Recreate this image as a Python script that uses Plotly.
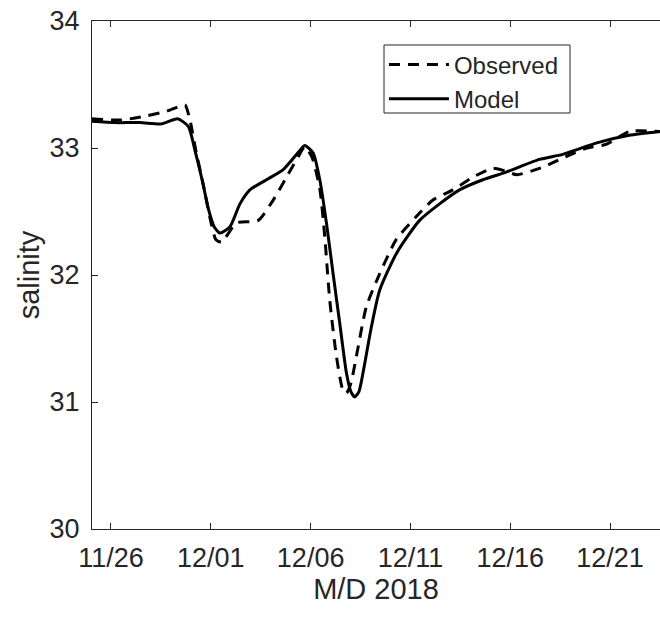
import plotly.graph_objects as go

# Model (solid)
model_t = ["2018-11-25 01:10", "2018-11-26 05:00", "2018-11-27 11:00", "2018-11-28 13:00",
           "2018-11-29 08:00", "2018-11-29 21:00", "2018-11-30 05:00", "2018-11-30 13:30",
           "2018-11-30 21:30", "2018-12-01 04:00", "2018-12-01 11:00", "2018-12-01 23:00",
           "2018-12-02 11:00", "2018-12-02 23:00", "2018-12-03 19:00", "2018-12-04 15:00",
           "2018-12-05 11:00", "2018-12-05 17:00", "2018-12-06 03:00", "2018-12-06 11:00",
           "2018-12-06 19:00", "2018-12-07 03:00", "2018-12-07 11:00", "2018-12-07 19:00",
           "2018-12-08 00:30", "2018-12-08 05:00", "2018-12-08 10:00", "2018-12-08 15:00",
           "2018-12-09 01:00", "2018-12-09 11:00", "2018-12-10 08:00", "2018-12-11 11:00",
           "2018-12-12 11:00", "2018-12-13 11:00", "2018-12-14 15:00", "2018-12-15 19:00",
           "2018-12-17 11:00", "2018-12-18 15:00", "2018-12-20 08:00", "2018-12-21 23:00",
           "2018-12-23 12:00"]
model_s = [33.21, 33.20, 33.20, 33.19,
           33.23, 33.17, 32.98, 32.75,
           32.51, 32.38, 32.33, 32.38,
           32.56, 32.67, 32.75, 32.83,
           32.98, 33.02, 32.96, 32.75,
           32.41, 32.01, 31.62, 31.23,
           31.08, 31.04, 31.08, 31.23,
           31.59, 31.88, 32.18, 32.43,
           32.56, 32.67, 32.75, 32.81,
           32.91, 32.95, 33.04, 33.10,
           33.13]

# Observed (dashed)
obs_t = ["2018-11-25 01:10", "2018-11-26 11:00", "2018-11-27 17:00", "2018-11-28 19:00",
         "2018-11-29 11:00", "2018-11-29 17:00", "2018-11-29 23:00", "2018-11-30 06:00",
         "2018-11-30 14:40", "2018-11-30 23:00", "2018-12-01 06:00", "2018-12-01 13:00",
         "2018-12-02 07:00", "2018-12-03 09:00", "2018-12-04 03:00", "2018-12-04 19:00",
         "2018-12-05 09:00", "2018-12-05 17:00", "2018-12-06 01:30", "2018-12-06 11:00",
         "2018-12-06 17:00", "2018-12-06 23:00", "2018-12-07 07:00", "2018-12-07 15:00",
         "2018-12-07 19:00", "2018-12-08 00:30", "2018-12-08 07:00", "2018-12-08 19:00",
         "2018-12-09 11:00", "2018-12-10 07:00", "2018-12-11 07:00", "2018-12-12 03:00",
         "2018-12-13 03:00", "2018-12-14 03:00", "2018-12-15 03:00", "2018-12-15 17:30",
         "2018-12-16 08:00", "2018-12-17 15:30", "2018-12-18 15:00", "2018-12-19 20:00",
         "2018-12-20 20:00", "2018-12-21 23:00", "2018-12-23 12:00"]
obs_s = [33.23, 33.22, 33.25, 33.29,
         33.33, 33.34, 33.22, 32.98,
         32.72, 32.45, 32.28, 32.26,
         32.41, 32.43, 32.59, 32.77,
         32.93, 33.01, 32.93, 32.68,
         32.30, 31.80, 31.36, 31.09,
         31.07, 31.15, 31.36, 31.75,
         32.01, 32.28, 32.46, 32.59,
         32.67, 32.77, 32.84, 32.82,
         32.79, 32.85, 32.92, 33.00,
         33.03, 33.13, 33.13]

x_ticks = ["2018-11-26", "2018-12-01", "2018-12-06", "2018-12-11", "2018-12-16", "2018-12-21"]
x_tick_labels = ["11/26", "12/01", "12/06", "12/11", "12/16", "12/21"]
y_ticks = [30, 31, 32, 33, 34]

ink = "#262626"
font = "Liberation Sans, Arial, sans-serif"

fig = go.Figure()
fig.add_trace(go.Scatter(x=obs_t, y=obs_s, mode="lines", name="Observed",
                         line=dict(color="black", width=3, dash="11px,8px", shape="spline", smoothing=0.6)))
fig.add_trace(go.Scatter(x=model_t, y=model_s, mode="lines", name="Model",
                         line=dict(color="black", width=3, shape="spline", smoothing=0.6)))

# legend box (drawn as a shape so its padding matches)
fig.add_shape(type="rect", xref="paper", yref="paper",
              x0=(384 - 92) / 568, x1=(570 - 92) / 568,
              y0=(529 - 113) / 508, y1=(529 - 45) / 508,
              line=dict(color=ink, width=1), fillcolor="rgba(0,0,0,0)", layer="above")

fig.update_layout(
    width=660, height=621,
    margin=dict(l=92, r=0, t=21, b=92),
    paper_bgcolor="white", plot_bgcolor="white",
    font=dict(family=font, size=24, color=ink),
    showlegend=True,
    legend=dict(x=0.514, y=0.958, xanchor="left", yanchor="top",
                bgcolor="rgba(255,255,255,0)", borderwidth=0,
                font=dict(family=font, size=24, color=ink), itemwidth=60,
                tracegroupgap=0),
)
fig.update_xaxes(
    range=["2018-11-25 01:10", "2018-12-23 12:00"],
    tickmode="array", tickvals=x_ticks, ticktext=x_tick_labels,
    ticks="inside", ticklen=6, tickwidth=1, tickcolor=ink,
    tickfont=dict(family=font, size=27, color=ink), ticklabelstandoff=5,
    showline=True, linecolor=ink, linewidth=1, mirror="ticks",
    showgrid=False, zeroline=False,
    title=dict(text="M/D 2018", standoff=6, font=dict(family=font, size=29, color=ink)),
)
fig.update_yaxes(
    range=[30, 34], tickmode="array", tickvals=y_ticks,
    ticks="inside", ticklen=6, tickwidth=1, tickcolor=ink,
    tickfont=dict(family=font, size=27, color=ink), ticklabelstandoff=6,
    showline=True, linecolor=ink, linewidth=1, mirror=False,
    showgrid=False, zeroline=False,
    title=dict(text="salinity", standoff=1, font=dict(family=font, size=29, color=ink)),
)

fig.write_html("out.html")
